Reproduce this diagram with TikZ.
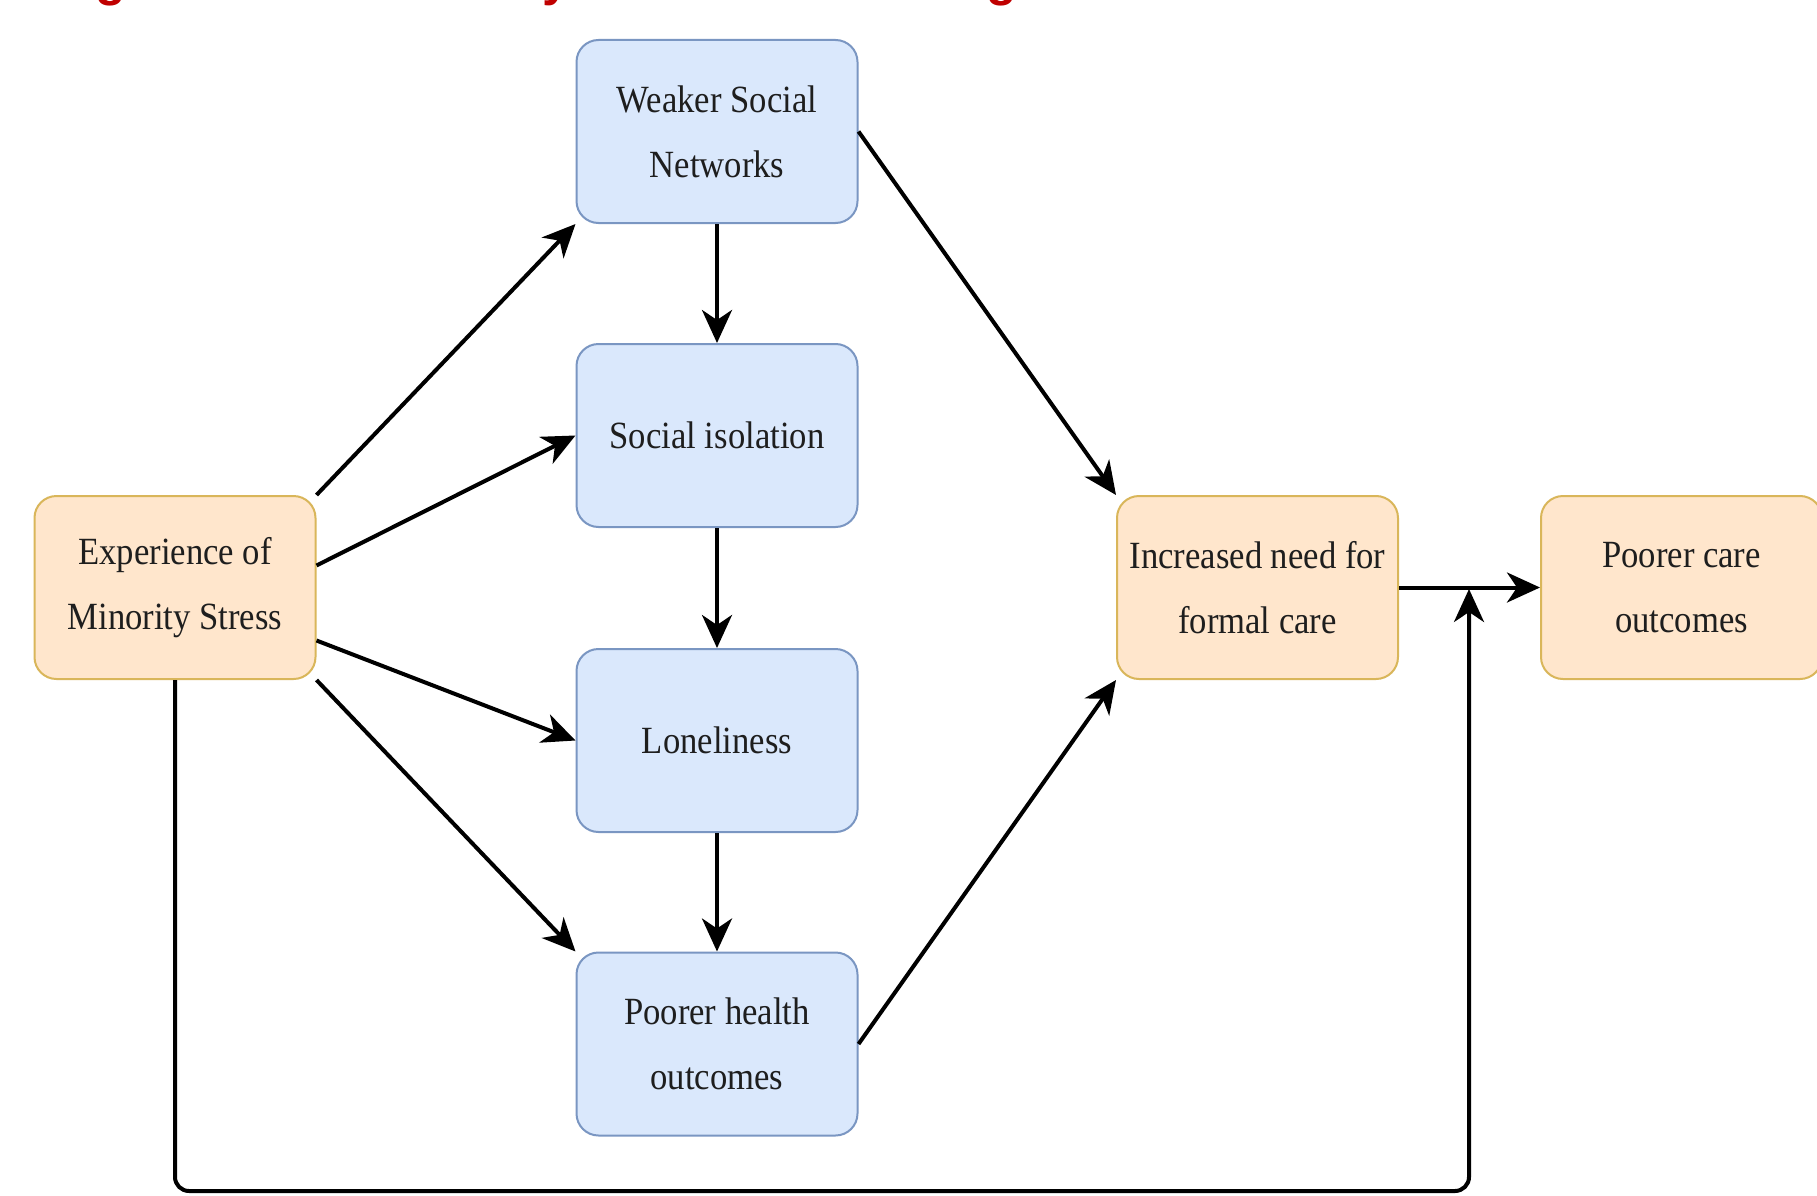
\documentclass[tikz,border=0pt]{standalone}
\usepackage{fontspec}
\setmainfont{Liberation Serif}[FakeStretch=0.9]
\newfontfamily\titlefont{Liberation Sans}
\usetikzlibrary{arrows.meta,calc}
\definecolor{bfill}{HTML}{DAE8FC}
\definecolor{bdraw}{HTML}{7A96C2}
\definecolor{ofill}{HTML}{FFE6CC}
\definecolor{odraw}{HTML}{D9B65A}
\definecolor{ttl}{HTML}{C00000}
\definecolor{txt}{HTML}{1E1E1E}
\begin{document}
\begin{tikzpicture}[x=1pt,y=-1pt,
  box/.style={draw, line width=2pt, rounded corners=22pt, minimum width=281pt, minimum height=183pt,
    align=center, inner sep=0pt, text=txt, font=\fontsize{38.5}{65}\selectfont},
  bluebox/.style={box, fill=bfill, draw=bdraw},
  orangebox/.style={box, fill=ofill, draw=odraw},
  arr/.style={line width=4pt, -{Stealth[length=33pt,width=30pt,inset=10pt]}},
  frag/.style={text=ttl, font=\titlefont\bfseries\fontsize{50}{60}\selectfont, anchor=base, inner sep=0pt}]
\useasboundingbox (0,0) rectangle (1817,1196);
\fill[white] (0,0) rectangle (1817,1196);

% cut-off title fragments
\node[frag] (t1) at (111,-4) {g};
\node[frag] (t2) at (556,-4) {y};
\node[frag] (t3) at (1002,-4) {g};

% nodes
\node[orangebox] (exp) at (175,587.5) {Experience of\\Minority Stress};
\node[bluebox] (wsn) at (717,131.5) {Weaker Social\\Networks};
\node[bluebox] (soc) at (717,435.5) {Social isolation};
\node[bluebox] (lon) at (717,740.5) {Loneliness};
\node[bluebox] (phe) at (717,1044) {Poorer health\\outcomes};
\node[orangebox] (inc) at (1257.5,587.5) {Increased need for\\formal care};
\node[orangebox] (pco) at (1681.5,587.5) {Poorer care\\outcomes};

% connectors
\draw[arr] (exp.north east) -- (wsn.south west);
\draw[arr] ([yshift=22pt]exp.east) -- (soc.west);
\draw[arr] ([yshift=-53pt]exp.east) -- (lon.west);
\draw[arr] (exp.south east) -- (phe.north west);
\draw[arr] (wsn.south) -- (soc.north);
\draw[arr] (soc.south) -- (lon.north);
\draw[arr] (lon.south) -- (phe.north);
\draw[arr] (wsn.east) -- (inc.north west);
\draw[arr] (phe.east) -- (inc.south west);
\draw[arr] (inc.east) -- (pco.west);
\coordinate (j) at (1469,589);
\coordinate (rb) at (1469,1191);
\draw[arr, rounded corners=14pt] (exp.south) |- (rb) -- (j);
\end{tikzpicture}
\end{document}
